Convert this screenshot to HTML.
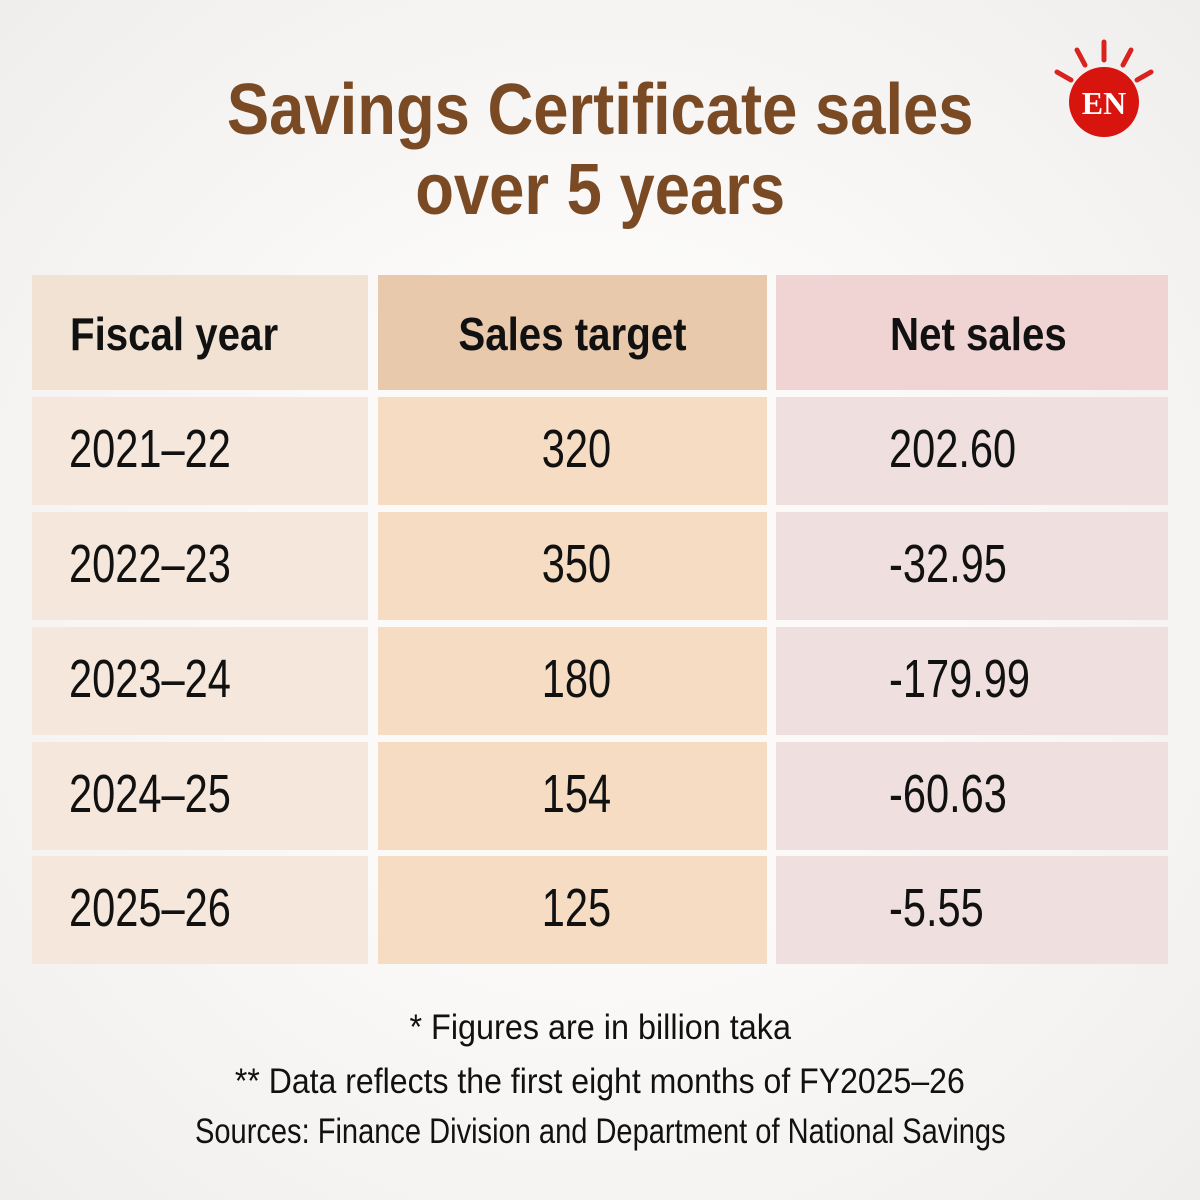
<!DOCTYPE html>
<html><head><meta charset="utf-8"><style>
*{margin:0;padding:0;box-sizing:border-box}
body{width:1200px;height:1200px;background:radial-gradient(ellipse at center,#fbfaf9 40%,#f0eeec 100%);position:relative;overflow:hidden;font-family:"Liberation Sans",sans-serif}
.t{position:absolute;white-space:nowrap;display:inline-block;transform-origin:left center}
.c{transform-origin:center center}
.cell{position:absolute}
.h{font-weight:bold;font-size:46px;color:#111}
.v{font-size:54px;color:#111}
.title{position:absolute;left:0;width:1200px;text-align:center;font-weight:bold;font-size:72px;color:#7a4a24}
.title span{display:inline-block;transform:scaleX(0.88)}
.f{position:absolute;left:0;width:1200px;text-align:center;font-size:35px;color:#111}
.f span{display:inline-block}
</style></head><body>
<div class="title" style="top:70px;line-height:80px"><span>Savings Certificate sales</span></div>
<div class="title" style="top:150px;line-height:80px"><span>over 5 years</span></div>
<svg style="position:absolute;left:1040px;top:30px" width="130" height="120">
<g stroke="#d8231f" stroke-width="5" stroke-linecap="round">
<line x1="64" y1="12" x2="64" y2="30"/><line x1="37" y1="20" x2="45" y2="35"/><line x1="91" y1="20" x2="83" y2="35"/>
<line x1="17" y1="42" x2="31" y2="50"/><line x1="111" y1="42" x2="97" y2="50"/></g>
<circle cx="64" cy="72" r="35" fill="#d8140f"/>
<text x="64" y="84" text-anchor="middle" font-family="Liberation Serif,serif" font-weight="bold" font-size="32" fill="#fff">EN</text>
</svg>
<div class="cell" style="left:32px;top:275px;width:336px;height:115px;background:#f2e2d3"></div>
<div class="cell" style="left:378px;top:275px;width:389px;height:115px;background:#e9c9ac"></div>
<div class="cell" style="left:776px;top:275px;width:392px;height:115px;background:#f0d3d3"></div>
<div class="t h" style="left:70px;top:307px;transform:scaleX(0.875)">Fiscal year</div>
<div class="t h c" style="left:378px;width:389px;text-align:center;top:307px;transform:scaleX(0.875)">Sales target</div>
<div class="t h" style="left:890px;top:307px;transform:scaleX(0.875)">Net sales</div>
<div id="rows"></div>
<script>
var d=[["2021–22","320","202.60"],["2022–23","350","-32.95"],["2023–24","180","-179.99"],["2024–25","154","-60.63"],["2025–26","125","-5.55"]];
var tops=[397,512,627,742,856],h="";
d.forEach(function(r,i){var y=tops[i];
h+='<div class="cell" style="left:32px;top:'+y+'px;width:336px;height:108px;background:#f5e7db"></div>';
h+='<div class="cell" style="left:378px;top:'+y+'px;width:389px;height:108px;background:#f5dcc2"></div>';
h+='<div class="cell" style="left:776px;top:'+y+'px;width:392px;height:108px;background:#efdfdf"></div>';
h+='<div class="t v" style="left:69px;top:'+(y+21)+'px;transform:scaleX(0.77)">'+r[0]+'</div>';
h+='<div class="t v c" style="left:382px;width:389px;text-align:center;top:'+(y+21)+'px;transform:scaleX(0.77)">'+r[1]+'</div>';
h+='<div class="t v" style="left:889px;top:'+(y+21)+'px;transform:scaleX(0.77)">'+r[2]+'</div>';});
document.getElementById('rows').innerHTML=h;
</script>
<div class="f" style="top:1008px"><span style="transform:scaleX(0.925)">* Figures are in billion taka</span></div>
<div class="f" style="top:1062px"><span style="transform:scaleX(0.915)">** Data reflects the first eight months of FY2025–26</span></div>
<div class="f" style="top:1112px"><span style="transform:scaleX(0.83)">Sources: Finance Division and Department of National Savings</span></div>
</body></html>
